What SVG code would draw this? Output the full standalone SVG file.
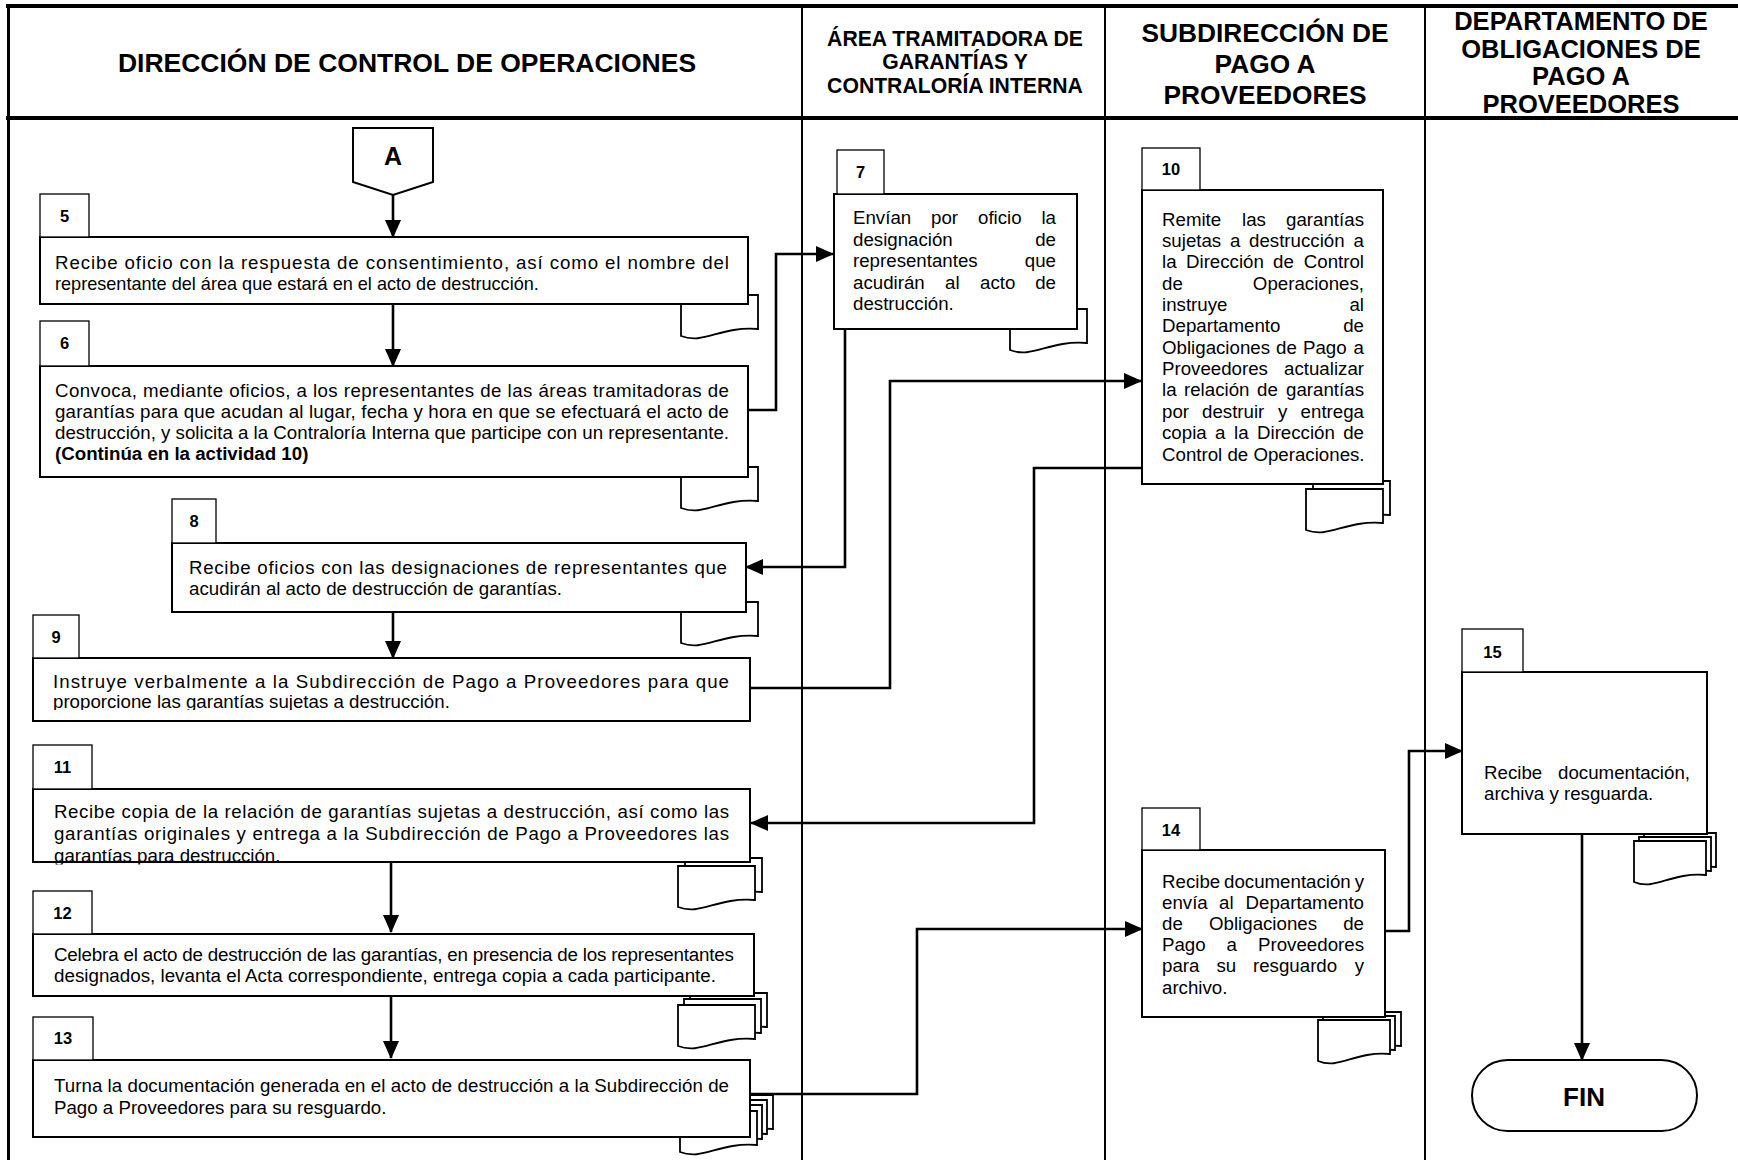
<svg xmlns="http://www.w3.org/2000/svg" xmlns:xlink="http://www.w3.org/1999/xlink" width="1738" height="1160" viewBox="0 0 1738 1160">
<style>
.bg{fill:#fff}
.frame{fill:none;stroke:#000;stroke-width:4}
.lane{fill:none;stroke:#000;stroke-width:2}
.box{fill:#fff;stroke:#000;stroke-width:2}
.tab{fill:#fff;stroke:#000;stroke-width:1.3}
.doc{fill:#fff;stroke:#000;stroke-width:1.8}
.conn{fill:none;stroke:#000;stroke-width:2.6}
.t{font-family:"Liberation Sans",Arial,sans-serif;font-size:18.7px;fill:#000}
.e{text-anchor:end}
.b{font-weight:bold}
.n{font-family:"Liberation Sans",Arial,sans-serif;font-size:16.5px;font-weight:bold;text-anchor:middle;fill:#000}
.h{font-family:"Liberation Sans",Arial,sans-serif;font-weight:bold;text-anchor:middle;fill:#000}
</style>
<defs>
<marker id="arr" markerUnits="userSpaceOnUse" markerWidth="18" markerHeight="16" refX="17" refY="8" orient="auto">
<path d="M0,0 L18,8 L0,16 Z" fill="#000"/>
</marker>
<path id="doc" class="doc" d="M0,0 H77 V34 C38.5,31 23,50 0,41 Z"/>
<path id="docS" class="doc" d="M0,0 H72 V34 C36,31 21.6,50 0,41 Z"/>
<clipPath id="clip9"><rect x="40" y="690" width="700" height="20"/></clipPath>
<clipPath id="clip11"><rect x="40" y="845" width="700" height="19.5"/></clipPath>
</defs>
<rect class="bg" x="0" y="0" width="1738" height="1160"/>

<g id="lanes">
<line class="frame" x1="6" y1="6" x2="1738" y2="6"/>
<line class="frame" x1="6" y1="118" x2="1738" y2="118"/>
<line x1="8.5" y1="4" x2="8.5" y2="1160" stroke="#000" stroke-width="3"/>
<line class="lane" x1="802" y1="6" x2="802" y2="1160"/>
<line class="lane" x1="1105" y1="6" x2="1105" y2="1160"/>
<line class="lane" x1="1425" y1="6" x2="1425" y2="1160"/>
<text class="h" font-size="26.5" x="407" y="72">DIRECCIÓN DE CONTROL DE OPERACIONES</text>
<text class="h" font-size="21.2" x="955" y="46">ÁREA TRAMITADORA DE</text>
<text class="h" font-size="21.2" x="955" y="69">GARANTÍAS Y</text>
<text class="h" font-size="21.2" x="955" y="93">CONTRALORÍA INTERNA</text>
<text class="h" font-size="26.3" x="1265" y="42">SUBDIRECCIÓN DE</text>
<text class="h" font-size="26.3" x="1265" y="73">PAGO A</text>
<text class="h" font-size="26.3" x="1265" y="104">PROVEEDORES</text>
<text class="h" font-size="25.5" x="1581" y="30">DEPARTAMENTO DE</text>
<text class="h" font-size="25.5" x="1581" y="57.5">OBLIGACIONES DE</text>
<text class="h" font-size="25.5" x="1581" y="85">PAGO A</text>
<text class="h" font-size="25.5" x="1581" y="112.5">PROVEEDORES</text>
</g>

<g id="connectors">
<path class="conn" d="M393,195 V237" marker-end="url(#arr)"/>
<path class="conn" d="M393,304 V366" marker-end="url(#arr)"/>
<path class="conn" d="M748,410 H776 V254 H833" marker-end="url(#arr)"/>
<path class="conn" d="M845,329 V567 H746" marker-end="url(#arr)"/>
<path class="conn" d="M393,612 V658" marker-end="url(#arr)"/>
<path class="conn" d="M750,688 H890 V381 H1141" marker-end="url(#arr)"/>
<path class="conn" d="M1142,468 H1034 V823 H751" marker-end="url(#arr)"/>
<path class="conn" d="M391,862 V932" marker-end="url(#arr)"/>
<path class="conn" d="M391,997 V1058" marker-end="url(#arr)"/>
<path class="conn" d="M750,1094 H917 V929 H1142" marker-end="url(#arr)"/>
<path class="conn" d="M1385,931 H1409 V751 H1462" marker-end="url(#arr)"/>
<path class="conn" d="M1582,834 V1060" marker-end="url(#arr)"/>
</g>

<g id="node-A">
<path class="box" d="M353,128 H433 V182 L393,195 L353,182 Z"/>
<text class="h" font-size="25" x="393" y="165">A</text>
</g>

<g id="node-5">
<use xlink:href="#doc" x="681" y="295"/>
<rect class="box" x="40" y="237" width="708" height="67"/>
<rect class="tab" x="40" y="194" width="49" height="43"/>
<text class="n" x="64.5" y="222">5</text>
<text class="t" x="55" y="268.5" textLength="674" lengthAdjust="spacing">Recibe oficio con la respuesta de consentimiento, así como el nombre del</text>
<text class="t" x="55" y="289.5" style="font-size:18.1px">representante del área que estará en el acto de destrucción.</text>
</g>

<g id="node-6">
<use xlink:href="#doc" x="681" y="467"/>
<rect class="box" x="40" y="366" width="708" height="111"/>
<rect class="tab" x="40" y="321" width="49" height="45"/>
<text class="n" x="64.5" y="349">6</text>
<text class="t" x="55" y="397" textLength="674" lengthAdjust="spacing">Convoca, mediante oficios, a los representantes de las áreas tramitadoras de</text>
<text class="t" x="55" y="418" textLength="674" lengthAdjust="spacing">garantías para que acudan al lugar, fecha y hora en que se efectuará el acto de</text>
<text class="t" x="55" y="439" textLength="674" lengthAdjust="spacing">destrucción, y solicita a la Contraloría Interna que participe con un representante.</text>
<text class="t b" x="55" y="460">(Continúa en la actividad 10)</text>
</g>

<g id="node-7">
<use xlink:href="#doc" x="1010" y="309"/>
<rect class="box" x="834" y="194" width="243" height="135"/>
<rect class="tab" x="837" y="150" width="47" height="44"/>
<text class="n" x="860.5" y="178">7</text>
<text class="t" x="853" y="224">Envían</text><text class="t" x="931" y="224">por</text><text class="t" x="978" y="224">oficio</text><text class="t e" x="1056" y="224">la</text>
<text class="t" x="853" y="245.5">designación</text><text class="t e" x="1056" y="245.5">de</text>
<text class="t" x="853" y="267">representantes</text><text class="t e" x="1056" y="267">que</text>
<text class="t" x="853" y="288.5">acudirán</text><text class="t" x="945" y="288.5">al</text><text class="t" x="980" y="288.5">acto</text><text class="t e" x="1056" y="288.5">de</text>
<text class="t" x="853" y="310">destrucción.</text>
</g>

<g id="node-8">
<use xlink:href="#doc" x="681" y="602"/>
<rect class="box" x="172" y="543" width="574" height="69"/>
<rect class="tab" x="172" y="499" width="44" height="44"/>
<text class="n" x="194" y="527">8</text>
<text class="t" x="189" y="573.5" textLength="538" lengthAdjust="spacing">Recibe oficios con las designaciones de representantes que</text>
<text class="t" x="189" y="595">acudirán al acto de destrucción de garantías.</text>
</g>

<g id="node-9">
<rect class="box" x="33" y="658" width="717" height="63"/>
<rect class="tab" x="33" y="615" width="46" height="43"/>
<text class="n" x="56" y="643">9</text>
<text class="t" x="53" y="687.5" textLength="676" lengthAdjust="spacing">Instruye verbalmente a la Subdirección de Pago a Proveedores para que</text>
<text class="t" x="53" y="708" clip-path="url(#clip9)">proporcione las garantías sujetas a destrucción.</text>
</g>

<g id="node-10">
<use xlink:href="#doc" x="1313" y="481"/>
<use xlink:href="#doc" x="1306" y="489"/>
<rect class="box" x="1142" y="190" width="241" height="294"/>
<rect class="tab" x="1142" y="148" width="58" height="42"/>
<text class="n" x="1171" y="175">10</text>
<text class="t" x="1162" y="225.5">Remite</text><text class="t" x="1242" y="225.5">las</text><text class="t e" x="1364" y="225.5">garantías</text>
<text class="t" x="1162" y="247">sujetas</text><text class="t" x="1230" y="247">a</text><text class="t" x="1249" y="247">destrucción</text><text class="t e" x="1364" y="247">a</text>
<text class="t" x="1162" y="268.2">la</text><text class="t" x="1186" y="268.2">Dirección</text><text class="t" x="1273" y="268.2">de</text><text class="t e" x="1364" y="268.2">Control</text>
<text class="t" x="1162" y="289.6">de</text><text class="t e" x="1364" y="289.6">Operaciones,</text>
<text class="t" x="1162" y="311">instruye</text><text class="t e" x="1364" y="311">al</text>
<text class="t" x="1162" y="332.3">Departamento</text><text class="t e" x="1364" y="332.3">de</text>
<text class="t" x="1162" y="353.7">Obligaciones</text><text class="t" x="1276" y="353.7">de</text><text class="t" x="1303" y="353.7">Pago</text><text class="t e" x="1364" y="353.7">a</text>
<text class="t" x="1162" y="375">Proveedores</text><text class="t e" x="1364" y="375">actualizar</text>
<text class="t" x="1162" y="396.4">la</text><text class="t" x="1184" y="396.4">relación</text><text class="t" x="1257" y="396.4">de</text><text class="t e" x="1364" y="396.4">garantías</text>
<text class="t" x="1162" y="417.7">por</text><text class="t" x="1202" y="417.7">destruir</text><text class="t" x="1278" y="417.7">y</text><text class="t e" x="1364" y="417.7">entrega</text>
<text class="t" x="1162" y="439.1">copia</text><text class="t" x="1215" y="439.1">a</text><text class="t" x="1234" y="439.1">la</text><text class="t" x="1257" y="439.1">Dirección</text><text class="t e" x="1364" y="439.1">de</text>
<text class="t" x="1162" y="460.5">Control de Operaciones.</text>
</g>

<g id="node-11">
<use xlink:href="#doc" x="685" y="858"/>
<use xlink:href="#doc" x="678" y="866"/>
<rect class="box" x="33" y="789" width="717" height="73"/>
<rect class="tab" x="33" y="745" width="59" height="44"/>
<text class="n" x="62.5" y="773">11</text>
<text class="t" x="54" y="817.5" textLength="675" lengthAdjust="spacing">Recibe copia de la relación de garantías sujetas a destrucción, así como las</text>
<text class="t" x="54" y="839.5" textLength="675" lengthAdjust="spacing">garantías originales y entrega a la Subdirección de Pago a Proveedores las</text>
<text class="t" x="54" y="861.5" clip-path="url(#clip11)">garantías para destrucción.</text>
</g>

<g id="node-12">
<use xlink:href="#doc" x="690" y="993"/>
<use xlink:href="#doc" x="684" y="999"/>
<use xlink:href="#doc" x="678" y="1005"/>
<rect class="box" x="33" y="934" width="721" height="62"/>
<rect class="tab" x="33" y="891" width="59" height="43"/>
<text class="n" x="62.5" y="919">12</text>
<text class="t" x="54" y="960.5" style="font-size:18.8px" textLength="680" lengthAdjust="spacing">Celebra el acto de destrucción de las garantías, en presencia de los representantes</text>
<text class="t" x="54" y="981.5" style="font-size:18.8px">designados, levanta el Acta correspondiente, entrega copia a cada participante.</text>
</g>

<g id="node-13">
<use xlink:href="#doc" x="696" y="1095"/>
<use xlink:href="#doc" x="690" y="1100"/>
<use xlink:href="#doc" x="685" y="1105"/>
<use xlink:href="#doc" x="680" y="1111"/>
<rect class="box" x="33" y="1060" width="717" height="77"/>
<rect class="tab" x="33" y="1017" width="60" height="43"/>
<text class="n" x="63" y="1044">13</text>
<text class="t" x="54" y="1092" textLength="675" lengthAdjust="spacing">Turna la documentación generada en el acto de destrucción a la Subdirección de</text>
<text class="t" x="54" y="1113.5">Pago a Proveedores para su resguardo.</text>
</g>

<g id="node-14">
<use xlink:href="#docS" x="1329" y="1012"/>
<use xlink:href="#docS" x="1323" y="1016"/>
<use xlink:href="#docS" x="1318" y="1020"/>
<rect class="box" x="1142" y="850" width="243" height="167"/>
<rect class="tab" x="1142" y="808" width="58" height="42"/>
<text class="n" x="1171" y="836">14</text>
<text class="t" x="1162" y="888">Recibe</text><text class="t" x="1224" y="888">documentación</text><text class="t e" x="1364" y="888">y</text>
<text class="t" x="1162" y="908.5">envía</text><text class="t" x="1219" y="908.5">al</text><text class="t e" x="1364" y="908.5">Departamento</text>
<text class="t" x="1162" y="929.5">de</text><text class="t" x="1209" y="929.5">Obligaciones</text><text class="t e" x="1364" y="929.5">de</text>
<text class="t" x="1162" y="950.5">Pago</text><text class="t" x="1226.5" y="950.5">a</text><text class="t e" x="1364" y="950.5">Proveedores</text>
<text class="t" x="1162" y="971.5">para</text><text class="t" x="1216.5" y="971.5">su</text><text class="t" x="1253" y="971.5">resguardo</text><text class="t e" x="1364" y="971.5">y</text>
<text class="t" x="1162" y="993.5">archivo.</text>
</g>

<g id="node-15">
<use xlink:href="#docS" x="1644" y="833"/>
<use xlink:href="#docS" x="1639" y="837"/>
<use xlink:href="#docS" x="1634" y="841"/>
<rect class="box" x="1462" y="672" width="245" height="162"/>
<rect class="tab" x="1462" y="629" width="61" height="43"/>
<text class="n" x="1492.5" y="658">15</text>
<text class="t" x="1484" y="778.5">Recibe</text><text class="t e" x="1690" y="778.5">documentación,</text>
<text class="t" x="1484" y="800">archiva y resguarda.</text>
</g>

<g id="node-FIN">
<rect class="box" x="1472" y="1060" width="225" height="71" rx="35.5" ry="35.5"/>
<text class="h" font-size="26" x="1584" y="1106">FIN</text>
</g>
</svg>
